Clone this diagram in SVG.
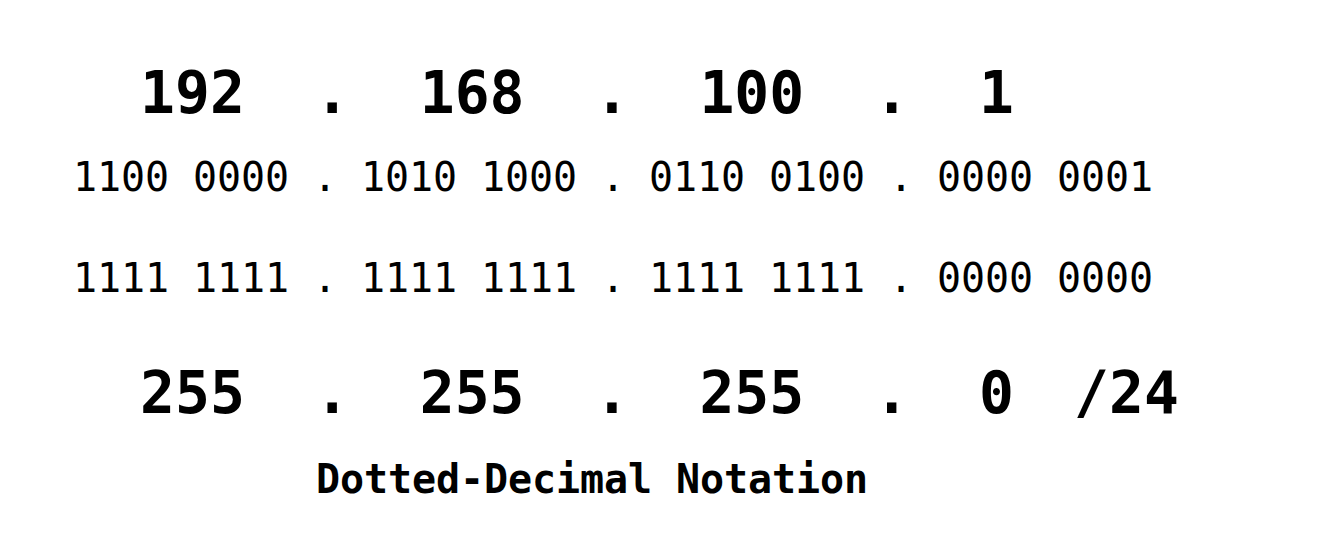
<svg xmlns="http://www.w3.org/2000/svg" width="1338" height="547" viewBox="0 0 1338 547" xml:space="preserve">
<style>
text { font-family: "DejaVu Sans Mono", "Liberation Mono", monospace; fill: #000; white-space: pre; }
.big { font-size: 58px; font-weight: bold; }
.bin { font-size: 40px; }
.cap { font-size: 40px; font-weight: bold; }
</style>
<rect width="1338" height="547" fill="#fff"/>
<g id="ip-decimal"><text class="big" x="140" y="113" textLength="874" lengthAdjust="spacing">192  .  168  .  100  .  1</text></g>
<g id="ip-binary"><text class="bin" x="73" y="191" textLength="1080" lengthAdjust="spacing">1100 0000 . 1010 1000 . 0110 0100 . 0000 0001</text></g>
<g id="mask-binary"><text class="bin" x="73" y="292" textLength="1080" lengthAdjust="spacing">1111 1111 . 1111 1111 . 1111 1111 . 0000 0000</text></g>
<g id="mask-decimal"><text class="big" x="140" y="413" textLength="874" lengthAdjust="spacing">255  .  255  .  255  .  0</text><text class="big" x="1074" y="413" textLength="105" lengthAdjust="spacing">/24</text></g>
<g id="caption"><text class="cap" x="316" y="493" textLength="552" lengthAdjust="spacing">Dotted-Decimal Notation</text></g>
<g id="connectors"></g>
</svg>
